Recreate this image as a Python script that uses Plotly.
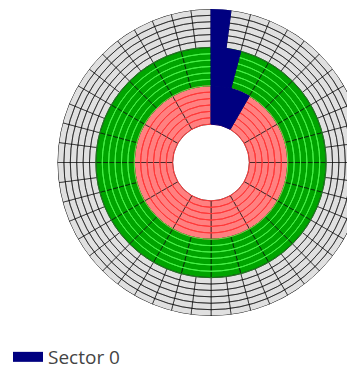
import plotly.graph_objects as go

# disk layout: three zones, each with the same number of tracks
zone_sectors = [12, 24, 48]      # sectors per track, inner -> outer
zone_tracks = [6, 6, 6]
hole_radius = 6                  # in track units
zone_fill = ["#ff8080", "#00a400", "#e0e0e0"]
zone_track_line = ["#ff3838", "#48f048", "rgba(0,0,0,0.55)"]
sector_line = "rgba(0,0,0,0.6)"
sector0_name = "Sector 0"
sector0_color = "#000080"

fig = go.Figure()

zone_bases = []
base = hole_radius
for z in range(len(zone_sectors)):
	zone_bases.append(base)
	base += zone_tracks[z]
outer = base

# sectors of each zone (fill + radial lines)
for z in range(len(zone_sectors)):
	n = zone_sectors[z]
	w = 360.0 / n
	fig.add_trace(go.Barpolar(
		theta=[(s + 0.5) * w for s in range(1, n)],
		r=[zone_tracks[z]] * (n - 1),
		base=zone_bases[z],
		width=w,
		marker=dict(color=zone_fill[z], line=dict(color=sector_line, width=1)),
		showlegend=False, hoverinfo="skip"))

# track circles of each zone
for z in range(len(zone_sectors)):
	nt = zone_tracks[z]
	fig.add_trace(go.Barpolar(
		theta=[180] * nt,
		r=[1] * nt,
		base=[zone_bases[z] + t for t in range(nt)],
		width=360,
		marker=dict(color="rgba(0,0,0,0)", line=dict(color=zone_track_line[z], width=1)),
		showlegend=False, hoverinfo="skip"))

# sector 0 of every zone
fig.add_trace(go.Barpolar(
	theta=[180.0 / n for n in zone_sectors],
	r=zone_tracks,
	base=zone_bases,
	width=[360.0 / n for n in zone_sectors],
	marker=dict(color=sector0_color, line=dict(color=sector0_color, width=1)),
	name=sector0_name, legendgroup="s0", showlegend=False))
# legend entry
fig.add_trace(go.Scatterpolar(
	r=[None], theta=[None], mode="lines",
	line=dict(color=sector0_color, width=10),
	name=sector0_name, legendgroup="s0", showlegend=True))

fig.update_layout(
	width=414, height=368,
	margin=dict(l=49, r=57, t=1, b=60),
	paper_bgcolor="white",
	showlegend=True,
	legend=dict(orientation="h", xref="container", yref="container",
		x=0.0, y=0.0, xanchor="left", yanchor="bottom",
		font=dict(size=19, color="#444")),
	polar=dict(
		bgcolor="white",
		radialaxis=dict(range=[0, outer], visible=False, showgrid=False),
		angularaxis=dict(rotation=90, direction="clockwise", visible=False,
			showgrid=False, showline=False, ticks=""),
	),
)
fig.write_html("out.html")
